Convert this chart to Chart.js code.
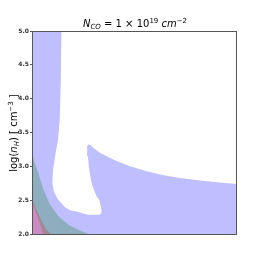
<!DOCTYPE html>
<html>
<head>
<meta charset="utf-8">
<script src="https://cdn.jsdelivr.net/npm/chart.js@4.4.0/dist/chart.umd.min.js"></script>
<style>
  html, body { margin: 0; padding: 0; background: #fff; }
  #wrap { width: 263px; height: 264px; }
</style>
</head>
<body>
<div id="wrap"><canvas id="nco"></canvas></div>
<script>
// y ticks (log n_H)
const yTicks = [2.0, 2.5, 3.0, 3.5, 4.0, 4.5, 5.0];

// blue region: bounded above by the white zone (x on a 0..100 scale, no ticks shown)
const blueX = [0, 14.36, 14.03, 13.54, 12.72, 11.58, 10.28, 9.95, 10.60, 12.23, 13.54, 15.99, 18.43, 21.70, 24.14, 27.41, 33.12, 33.93, 33.61, 32.79, 31.48, 30.18, 29.04, 27.90, 27.24, 26.92, 27.41, 28.55, 29.85, 33.12, 39.64, 47.80, 55.95, 64.11, 72.27, 82.05, 90.21, 100, 100, 0];
const blueY = [5.0, 5.0, 4.235, 3.692, 3.396, 3.199, 2.952, 2.755, 2.632, 2.533, 2.484, 2.400, 2.350, 2.331, 2.311, 2.286, 2.286, 2.321, 2.410, 2.508, 2.558, 2.656, 2.755, 2.952, 3.150, 3.298, 3.322, 3.317, 3.273, 3.199, 3.100, 3.002, 2.928, 2.868, 2.829, 2.789, 2.765, 2.740, 2.0, 2.0];

// teal region in the lower left corner
const tealX = [0, 1.31, 3.10, 5.55, 8.81, 12.89, 17.78, 22.68, 27.57, 0];
const tealY = [3.199, 3.051, 2.903, 2.656, 2.434, 2.262, 2.138, 2.064, 2.0, 2.0];

// brown strip
const brownX = [0, 2.12, 4.57, 7.01, 9.30, 0];
const brownY = [2.518, 2.360, 2.202, 2.064, 2.0, 2.0];

// pink region
const pinkX = [0, 1.47, 3.10, 4.57, 5.55, 0];
const pinkY = [2.484, 2.360, 2.222, 2.089, 2.0, 2.0];

function pts(xs, ys) {
    return xs.map((x, i) => ({ x: x, y: ys[i] }));
}

function region(xs, ys, color, order) {
    return {
        data: pts(xs, ys),
        backgroundColor: color,
        borderWidth: 0,
        pointRadius: 0,
        fill: 'shape',
        tension: 0,
        order: order
    };
}

// draws a run of text pieces (sub/superscripts), centred on x
function drawRuns(ctx, runs, cx, cy, base) {
    let total = 0;
    runs.forEach(r => {
        ctx.font = (r.it ? 'italic ' : '') + (r.size || base) + 'px "DejaVu Sans"';
        r.w = ctx.measureText(r.t).width;
        total += r.w;
    });
    let x = cx - total / 2;
    runs.forEach(r => {
        ctx.font = (r.it ? 'italic ' : '') + (r.size || base) + 'px "DejaVu Sans"';
        ctx.fillText(r.t, x, cy + (r.dy || 0));
        x += r.w;
    });
}

const labelsPlugin = {
    id: 'labels',
    afterDraw(chart) {
        const ctx = chart.ctx;
        const a = chart.chartArea;
        ctx.save();
        ctx.strokeStyle = '#555';
        ctx.lineWidth = 1;
        ctx.strokeRect(a.left + 0.5, a.top + 0.5, a.right - a.left - 1, a.bottom - a.top);
        ctx.fillStyle = '#000';
        ctx.textBaseline = 'alphabetic';
        ctx.textAlign = 'left';
        drawRuns(ctx, [
            { t: 'N', it: true },
            { t: 'CO', it: true, size: 7, dy: 2 },
            { t: ' = 1 × 10' },
            { t: '19', size: 7, dy: -4 },
            { t: ' ' },
            { t: 'cm', it: true },
            { t: '−2', size: 7, dy: -4 }
        ], 135, 27, 10);
        ctx.translate(17, 133);
        ctx.rotate(-Math.PI / 2);
        drawRuns(ctx, [
            { t: 'log(' },
            { t: 'n', it: true },
            { t: 'H', it: true, size: 7, dy: 2 },
            { t: ') [ cm' },
            { t: '−3', size: 7, dy: -4 },
            { t: ' ]' }
        ], 0, 0, 10);
        ctx.restore();
    }
};

new Chart(document.getElementById('nco'), {
    type: 'line',
    data: {
        datasets: [
            region(blueX, blueY, '#bfbfff', 4),
            region(tealX, tealY, '#8eaec0', 3),
            region(brownX, brownY, '#a28892', 2),
            region(pinkX, pinkY, '#cc8ac2', 1)
        ]
    },
    options: {
        responsive: true,
        maintainAspectRatio: false,
        animation: false,
        layout: { padding: { left: 0, top: 31, right: 26, bottom: 30 } },
        plugins: {
            legend: { display: false },
            tooltip: { enabled: false }
        },
        scales: {
            x: { type: 'linear', min: 0, max: 100, display: false },
            y: {
                type: 'linear',
                min: 2,
                max: 5,
                afterFit: s => { s.width = 32; },
                afterBuildTicks: s => { s.ticks = yTicks.map(v => ({ value: v })); },
                ticks: {
                    padding: 1,
                    color: '#333',
                    font: { family: 'DejaVu Sans', size: 6, weight: 'bold' },
                    callback: v => v.toFixed(1)
                },
                grid: { drawOnChartArea: false, drawTicks: true, tickLength: 2, color: '#555' },
                border: { display: false }
            }
        }
    },
    plugins: [labelsPlugin]
});
</script>
</body>
</html>
